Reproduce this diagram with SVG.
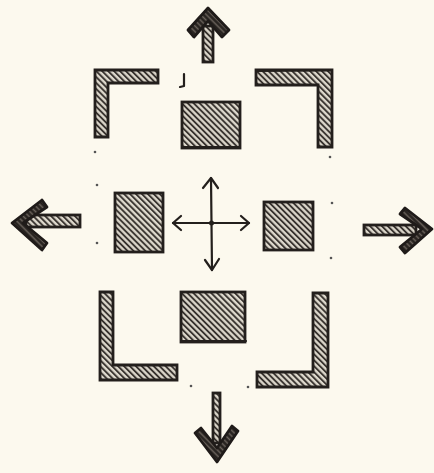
<svg xmlns="http://www.w3.org/2000/svg" width="434" height="473" viewBox="0 0 434 473">
<defs>
<pattern id="hatch" width="4.2" height="4.2" patternUnits="userSpaceOnUse" patternTransform="rotate(-45)">
<rect width="4.2" height="4.2" fill="#ddd8cc"/>
<line x1="1" y1="0" x2="1" y2="4.2" stroke="#2e2926" stroke-width="1.8"/>
</pattern>
<pattern id="hatchDark" width="4" height="4" patternUnits="userSpaceOnUse" patternTransform="rotate(-45)">
<rect width="4" height="4" fill="#6b635c"/>
<line x1="1.5" y1="0" x2="1.5" y2="4" stroke="#221e1b" stroke-width="2.4"/>
</pattern>
<style>
.wall{fill:url(#hatch);stroke:#231f1c;stroke-width:2.8;stroke-linejoin:miter}
.head{fill:url(#hatchDark);stroke:#1f1b19;stroke-width:2.8;stroke-linejoin:round}
.ink{fill:none;stroke:#231f1c;stroke-width:2.2;stroke-linecap:round;stroke-linejoin:round}
.dot{fill:#555}
</style>
</defs>
<rect width="434" height="473" fill="#fcf9ee"/>

<g id="bracket-top-left">
<path class="wall" d="M95,70 L158,70 L158,83 L108,83 L108,137 L95,137 Z"/>
<line class="ink" x1="108" y1="137" x2="100" y2="137" stroke-width="3.5"/>
</g>
<g id="bracket-top-right">
<path class="wall" d="M256,70 L332,70 L332,147 L318,147 L318,85 L256,85 Z"/>
<line class="ink" x1="256" y1="71" x2="332" y2="70" stroke-width="3.5"/>
</g>
<g id="bracket-bottom-left">
<path class="wall" d="M100,292 L113,292 L113,365 L177,365 L177,380 L100,380 Z"/>
</g>
<g id="bracket-bottom-right">
<path class="wall" d="M313,293 L328,293 L328,387 L257,387 L257,372 L313,372 Z"/>
</g>

<g id="block-top">
<rect class="wall" x="182" y="102" width="58" height="46"/>
<line class="ink" x1="182" y1="147" x2="240" y2="147" stroke-width="4"/>
</g>
<g id="block-left">
<rect class="wall" x="115" y="193" width="48" height="59"/>
</g>
<g id="block-right">
<rect class="wall" x="264" y="202" width="49" height="48"/>
</g>
<g id="block-bottom">
<rect class="wall" x="181" y="292" width="64" height="50"/>
<line class="ink" x1="181" y1="341" x2="246" y2="341" stroke-width="4"/>
</g>

<g id="connectors">
<!-- up arrow -->
<rect class="wall" x="203" y="26" width="10" height="36" stroke-width="2.4"/>
<path class="head" d="M188,30 L208,8 L229,30 L222,37 L208,21 L194,37 Z"/>
<!-- left arrow -->
<rect class="wall" x="26" y="215" width="54" height="12" stroke-width="2.4"/>
<path class="head" d="M42,200 L12,223 L42,250 L47,243 L23,223 L47,207 Z"/>
<!-- right arrow -->
<rect class="wall" x="364" y="225" width="52" height="10" stroke-width="2.4"/>
<path class="head" d="M405,208 L432,229 L405,253 L400,247 L422,229 L400,214 Z"/>
<!-- down arrow -->
<rect class="wall" x="213" y="393" width="7" height="50" stroke-width="2.2"/>
<path class="head" d="M195,433 L217,462 L238,431 L232,426 L217,448 L201,428 Z"/>
<!-- center cross -->
<line class="ink" x1="211" y1="178" x2="212" y2="270"/>
<line class="ink" x1="173" y1="223" x2="249" y2="223"/>
<path class="ink" d="M203,188 L211,178 L218,188"/>
<path class="ink" d="M205,260 L212,270 L219,259"/>
<path class="ink" d="M181,216 L173,223 L181,230"/>
<path class="ink" d="M241,216 L249,223 L241,230"/>
<circle cx="211.5" cy="223" r="2.5" fill="#231f1c"/>
</g>

<g id="marks">
<path class="ink" d="M184,74 L184,86 L180,87" stroke-width="1.8"/>
<circle class="dot" cx="95" cy="152" r="1.3"/>
<circle class="dot" cx="330" cy="157" r="1.3"/>
<circle class="dot" cx="97" cy="185" r="1.3"/>
<circle class="dot" cx="97" cy="243" r="1.3"/>
<circle class="dot" cx="332" cy="203" r="1.3"/>
<circle class="dot" cx="331" cy="258" r="1.3"/>
<circle class="dot" cx="191" cy="386" r="1.3"/>
<circle class="dot" cx="248" cy="387" r="1.3"/>
</g>
</svg>
